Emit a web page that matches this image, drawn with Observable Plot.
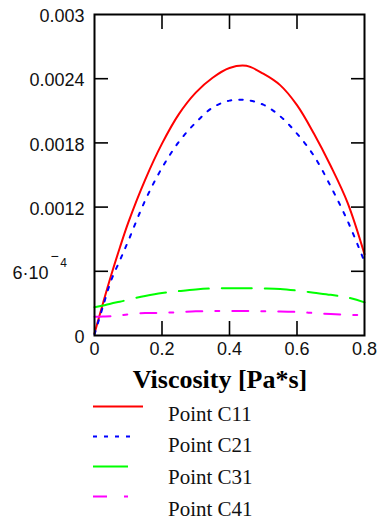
<!DOCTYPE html>
<html><head><meta charset="utf-8">
<script src="https://cdn.jsdelivr.net/npm/d3@7"></script>
<script src="https://cdn.jsdelivr.net/npm/@observablehq/plot@0.6"></script>
<style>
body{margin:0;background:#fff;}
#wrap{width:381px;height:520px;overflow:hidden;}
#wrap svg{display:block;}
</style></head><body><div id="wrap"></div>
<script>
// ---- data ----
const xValues = [0, 0.025, 0.05, 0.075, 0.1, 0.15, 0.2, 0.25, 0.3, 0.35, 0.4, 0.45, 0.5, 0.55, 0.6, 0.65, 0.7, 0.75, 0.8];
const c11 = [0.00002, 0.0003, 0.00057, 0.00082, 0.001055, 0.001455, 0.001793, 0.002069, 0.00227, 0.002409, 0.0025, 0.00252, 0.002447, 0.00234, 0.002153, 0.001888, 0.001584, 0.00124, 0.00076];
const c21 = [0.00001, 0.00027, 0.00052, 0.0007, 0.000883, 0.001261, 0.001567, 0.00181, 0.00199, 0.00213, 0.002195, 0.0022, 0.002157, 0.00205, 0.001886, 0.00168, 0.001393, 0.00107, 0.00069];
const c31 = [0.000265, 0.00028, 0.0003, 0.000315, 0.000335, 0.00037, 0.000398, 0.000415, 0.00043, 0.00044, 0.000442, 0.000442, 0.00044, 0.000435, 0.00042, 0.0004, 0.00038, 0.000355, 0.00031];
const c41 = [0.000175, 0.000177, 0.00018, 0.000188, 0.000198, 0.00021, 0.000212, 0.000218, 0.000226, 0.000228, 0.000228, 0.000228, 0.000227, 0.000225, 0.00022, 0.00021, 0.0002, 0.000193, 0.00019];
const seriesNames = ["Point C11", "Point C21", "Point C31", "Point C41"];
const xTicks = [0, 0.2, 0.4, 0.6, 0.8];
const xTickLabels = ["0", "0.2", "0.4", "0.6", "0.8"];
const yTicks = [0, 0.0006, 0.0012, 0.0018, 0.0024, 0.003];
const yTickLabels = ["0", "6·10", "0.0012", "0.0018", "0.0024", "0.003"];
const yExponent = ["−", "4"];
const xTitle = "Viscosity [Pa*s]";

// ---- styles ----
const seriesValues = [c11, c21, c31, c41];
const seriesColors = ["#ff0000", "#0000ff", "#00ff00", "#ff00ff"];
const seriesDash = [null, "3.5,8", "30,13", "16,13,4,13"];
const legendLen = [50, 40, 35, 35];
const legendDash = [null, "4,7", null, "14,17,4,30"];

const innerX = xTicks.slice(1, -1);
const innerY = yTicks.slice(1, -1);
const labelY = yTicks.filter((d, i) => i !== 1);
const sans = "'Liberation Sans', Arial, sans-serif";

const lines = seriesNames.map((name, s) =>
  Plot.line(xValues.map((x, i) => ({x, y: seriesValues[s][i]})), {
    x: "x", y: "y", stroke: seriesColors[s], strokeWidth: 2,
    strokeDasharray: seriesDash[s], curve: "catmull-rom"
  })
);

const chart = Plot.plot({
  width: 381, height: 365,
  marginLeft: 94, marginRight: 17, marginTop: 14, marginBottom: 30,
  x: {domain: [0, 0.8]},
  y: {domain: [0, 0.003]},
  style: {fontFamily: sans, fontSize: "18px", color: "#111", background: "#fff"},
  marks: [
    ...lines,
    // inward ticks
    Plot.axisX(innerX, {anchor: "bottom", tickSize: 14, dy: -14, tickFormat: () => "", label: null, strokeWidth: 1.6, stroke: "#000"}),
    Plot.axisX(innerX, {anchor: "top", tickSize: 14, dy: 14, tickFormat: () => "", label: null, strokeWidth: 1.6, stroke: "#000"}),
    Plot.axisY(innerY, {anchor: "left", tickSize: 14, dx: 14, tickFormat: () => "", label: null, strokeWidth: 1.6, stroke: "#000"}),
    Plot.axisY(innerY, {anchor: "right", tickSize: 14, dx: -14, tickFormat: () => "", label: null, strokeWidth: 1.6, stroke: "#000"}),
    // tick labels
    Plot.axisX(xTicks, {anchor: "bottom", tickSize: 0, tickPadding: 7, tickFormat: d => xTickLabels[xTicks.indexOf(d)], label: null, fontSize: 18}),
    Plot.axisY(labelY, {anchor: "left", tickSize: 0, tickPadding: 10, dy: 2, tickFormat: d => yTickLabels[yTicks.indexOf(d)], label: null, fontSize: 18}),
    Plot.text([yTicks[1]], {y: d => d, frameAnchor: "left", dx: -46, dy: 2, textAnchor: "end", text: () => yTickLabels[1], fontSize: 18}),
    Plot.text([yTicks[1]], {y: d => d, frameAnchor: "left", dx: -40, dy: -15, textAnchor: "middle", text: () => yExponent[0], fontSize: 14}),
    Plot.text([yTicks[1]], {y: d => d, frameAnchor: "left", dx: -31, dy: -8, textAnchor: "middle", text: () => yExponent[1], fontSize: 12}),
    Plot.frame({stroke: "#000", strokeWidth: 2})
  ]
});
document.getElementById("wrap").appendChild(chart);

// ---- title + legend below the plot ----
const ns = "http://www.w3.org/2000/svg";
const leg = document.createElementNS(ns, "svg");
leg.setAttribute("width", 381);
leg.setAttribute("height", 155);
const title = document.createElementNS(ns, "text");
title.setAttribute("x", 220);
title.setAttribute("y", 23);
title.setAttribute("text-anchor", "middle");
title.setAttribute("font-family", "'Liberation Serif', 'Times New Roman', serif");
title.setAttribute("font-weight", "bold");
title.setAttribute("font-size", 26);
title.textContent = xTitle;
leg.appendChild(title);
seriesNames.forEach((name, s) => {
  const ly = 41.5 + s * 30;
  const ln = document.createElementNS(ns, "line");
  ln.setAttribute("x1", 93); ln.setAttribute("x2", 93 + legendLen[s]);
  ln.setAttribute("y1", ly); ln.setAttribute("y2", ly);
  ln.setAttribute("stroke", seriesColors[s]);
  ln.setAttribute("stroke-width", 2.2);
  if (legendDash[s]) ln.setAttribute("stroke-dasharray", legendDash[s]);
  leg.appendChild(ln);
  const t = document.createElementNS(ns, "text");
  t.setAttribute("x", 168);
  t.setAttribute("y", 55.7 + s * 31.7);
  t.setAttribute("font-family", "'Liberation Serif', 'Times New Roman', serif");
  t.setAttribute("font-size", 21);
  t.setAttribute("fill", "#111");
  t.textContent = name;
  leg.appendChild(t);
});
document.getElementById("wrap").appendChild(leg);
</script>
</body></html>
